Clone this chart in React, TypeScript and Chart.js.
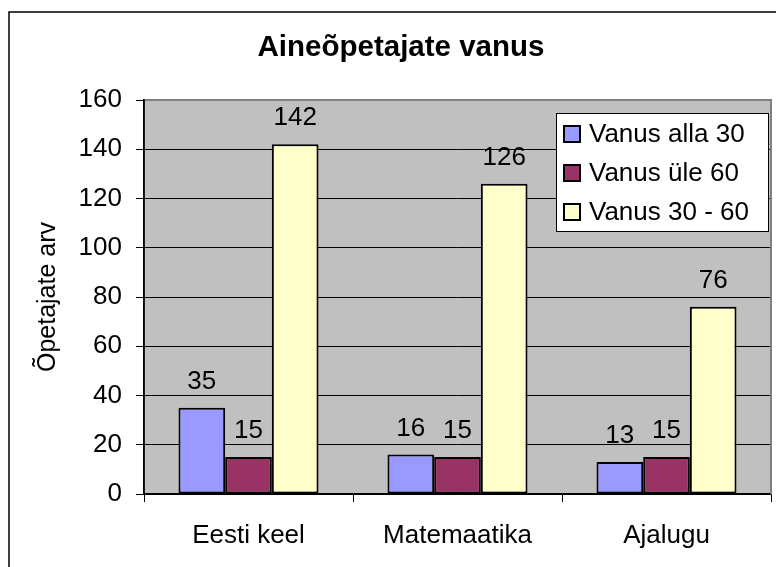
import React, { useEffect, useRef } from "react";
import { Chart, registerables } from "chart.js";
Chart.register(...registerables);

const chartTitle = "Aineõpetajate vanus";
const yAxisTitle = "Õpetajate arv";
const categories = ["Eesti keel", "Matemaatika", "Ajalugu"];
const seriesNames = ["Vanus alla 30", "Vanus üle 60", "Vanus 30 - 60"];
const under30 = [35, 16, 13];
const over60 = [15, 15, 15];
const between30and60 = [142, 126, 76];
const yTicks = [0, 20, 40, 60, 80, 100, 120, 140, 160];
const seriesColors = ["#9999FF", "#993366", "#FFFFCC"];

const FONT = "'Liberation Sans', Arial, Helvetica, sans-serif";

const decorPlugin = {
  id: "decor",
  beforeDraw(chart: any) {
    const { ctx, chartArea: a, width, height } = chart;
    ctx.save();
    ctx.fillStyle = "#ffffff";
    ctx.fillRect(0, 0, width, height);
    ctx.fillStyle = "#C0C0C0";
    ctx.fillRect(a.left, a.top, a.right - a.left, a.bottom - a.top);
    // outer chart border (clipped at right/bottom)
    ctx.strokeStyle = "#000000";
    ctx.lineWidth = 1.5;
    ctx.strokeRect(9, 12, width + 20, height + 20);
    // title
    ctx.fillStyle = "#000000";
    ctx.font = `bold 29.5px ${FONT}`;
    ctx.textAlign = "center";
    ctx.textBaseline = "middle";
    ctx.fillText(chartTitle, 401, 48);
    ctx.restore();
  },
  afterDatasetsDraw(chart: any) {
    const { ctx } = chart;
    ctx.save();
    ctx.fillStyle = "#000000";
    ctx.font = `26px ${FONT}`;
    ctx.textAlign = "center";
    ctx.textBaseline = "middle";
    chart.data.datasets.forEach((ds: any, i: number) => {
      const meta = chart.getDatasetMeta(i);
      meta.data.forEach((bar: any, j: number) => {
        ctx.fillText(String(ds.data[j]), bar.x, bar.y - 26);
      });
    });
    ctx.restore();
  },
  afterDraw(chart: any) {
    const { ctx, chartArea: a } = chart;
    ctx.save();
    // plot area border (gray top & right)
    ctx.strokeStyle = "#808080";
    ctx.lineWidth = 2;
    ctx.beginPath();
    ctx.moveTo(a.left, a.top);
    ctx.lineTo(a.right, a.top);
    ctx.lineTo(a.right, a.bottom);
    ctx.stroke();
    // left axis over corner
    ctx.strokeStyle = "#000000";
    ctx.lineWidth = 1.5;
    ctx.beginPath();
    ctx.moveTo(a.left, a.top - 1);
    ctx.lineTo(a.left, a.bottom);
    ctx.stroke();
    // legend
    const lx = 556, ly = 113, lw = 212, lh = 118;
    ctx.fillStyle = "#ffffff";
    ctx.fillRect(lx, ly, lw, lh);
    ctx.strokeStyle = "#000000";
    ctx.lineWidth = 1;
    ctx.strokeRect(lx + 0.5, ly + 0.5, lw, lh);
    ctx.font = `26px ${FONT}`;
    ctx.textAlign = "left";
    ctx.textBaseline = "middle";
    chart.data.datasets.forEach((ds: any, i: number) => {
      const cy = 134 + i * 39;
      ctx.fillStyle = ds.backgroundColor;
      ctx.fillRect(564, cy - 8, 16, 16);
      ctx.strokeStyle = "#000000";
      ctx.lineWidth = 2;
      ctx.strokeRect(564, cy - 8, 16, 16);
      ctx.fillStyle = "#000000";
      ctx.fillText(ds.label, 589, cy + 1);
    });
    ctx.restore();
  },
};

export default function App() {
  const ref = useRef<HTMLCanvasElement | null>(null);
  useEffect(() => {
    if (!ref.current) return;
    const values = [under30, over60, between30and60];
    const chart = new Chart(ref.current, {
      type: "bar",
      data: {
        labels: categories,
        datasets: seriesNames.map((name, i) => ({
          label: name,
          data: values[i],
          backgroundColor: seriesColors[i],
          borderColor: "#000000",
          borderWidth: 2,
          borderSkipped: false,
          categoryPercentage: 0.67,
          barPercentage: 1.0,
        })),
      },
      options: {
        responsive: false,
        animation: false,
        devicePixelRatio: 1,
        layout: { padding: { top: 100, right: 5, left: 0, bottom: 0 } },
        plugins: {
          legend: { display: false },
          title: { display: false },
          tooltip: { enabled: false },
        },
        scales: {
          x: {
            grid: {
              display: true,
              offset: true,
              drawOnChartArea: false,
              drawTicks: true,
              tickLength: 8,
              color: "#000000",
              lineWidth: 1,
            },
            border: { display: true, color: "#000000", width: 1.5 },
            ticks: {
              color: "#000000",
              font: { family: FONT, size: 26 },
              padding: 18,
              maxRotation: 0,
            },
            afterFit(scale: any) {
              scale.height = 73;
            },
          },
          y: {
            min: 0,
            max: 160,
            afterBuildTicks(scale: any) {
              scale.ticks = yTicks.map((v) => ({ value: v }));
            },
            grid: {
              color: "#000000",
              lineWidth: 1,
              drawTicks: true,
              tickLength: 8,
            },
            border: { display: true, color: "#000000", width: 1.5 },
            ticks: {
              color: "#000000",
              font: { family: FONT, size: 26 },
              padding: 14,
            },
            title: {
              display: true,
              text: yAxisTitle,
              color: "#000000",
              font: { family: FONT, size: 25 },
              padding: { top: 33, bottom: 0 },
            },
            afterFit(scale: any) {
              scale.width = 144;
            },
          },
        },
      },
      plugins: [decorPlugin],
    });
    return () => chart.destroy();
  }, []);
  return (
    <div style={{ position: "fixed", left: 0, top: 0, width: 776, height: 567, background: "#fff" }}>
      <canvas ref={ref} width={776} height={567} style={{ display: "block" }} />
    </div>
  );
}
